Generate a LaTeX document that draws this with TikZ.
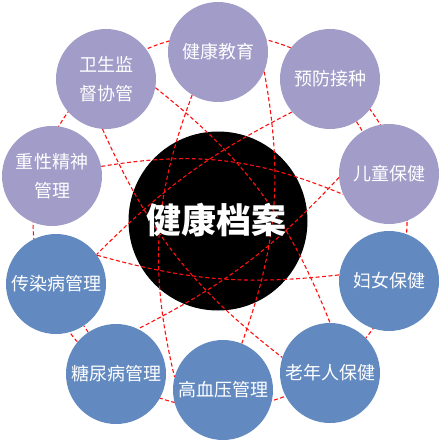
\documentclass[tikz,border=0pt]{standalone}
\usepackage{fontspec}
\setmainfont{Noto Sans CJK SC}
\usepackage{tikz}
\definecolor{lila}{HTML}{A29CC9}
\definecolor{azul}{HTML}{628AC1}
\definecolor{rojo}{HTML}{FF1010}
\tikzset{
  centro/.style={circle,fill=black,minimum size=179pt,inner sep=0pt},
  titulo/.style={text=white,font=\fontsize{35}{40}\selectfont\bfseries,inner sep=0pt},
  hoja/.style={circle,minimum size=100pt,inner sep=0pt,text=white,align=center,font=\fontsize{18}{29}\selectfont},
  hojalila/.style={hoja,fill=lila},
  hojaazul/.style={hoja,fill=azul},
  enlace/.style={draw=rojo,line width=1.1pt,dash pattern=on 4pt off 2.5pt},
}
\begin{document}
\begin{tikzpicture}[x=1pt,y=1pt]
\useasboundingbox (0,0) rectangle (440,-441);
\node[centro] (nc) at (218,-221) {};
\draw[enlace] (220,-221) circle (187);
\node[hojalila] (n0) at (218,-52) {健康教育};
\node[hojalila] (n1) at (330,-79) {预防接种};
\node[hojalila] (n2) at (389,-174) {儿童保健};
\node[hojaazul] (n3) at (389,-281) {妇女保健};
\node[hojaazul] (n4) at (330,-373) {老年人保健};
\node[hojaazul] (n5) at (223,-390) {高血压管理};
\node[hojaazul] (n6) at (116,-374) {糖尿病管理};
\node[hojaazul] (n7) at (56,-284) {传染病管理};
\node[hojalila] (n8) at (52,-176) {重性精神\\管理};
\node[hojalila] (n9) at (106,-79) {卫生监\\督协管};
% enlaces rectos
\draw[enlace] (n1) -- (n2);
\draw[enlace] (n6) -- (n7);
% enlaces curvos
\draw[enlace] (n0.-23) to[bend left=15] (n5.68);
\draw[enlace] (n0.239) to[bend right=17] (n5.165);
\draw[enlace] (n9.-10) to[bend left=15] (n4.90);
\draw[enlace] (n9.266) to[bend right=14] (n4.162);
\draw[enlace] (n8.11) to[bend left=16] (n2.204);
\draw[enlace] (n7.35) to[bend right=11] (n3.173);
\draw[enlace] (n1.221) to[bend right=9] (n7.36);
\draw[enlace] (n2.184) to[bend left=10] (n6.64);
\node[titulo] at (216,-220) {健康档案};
\end{tikzpicture}
\end{document}
